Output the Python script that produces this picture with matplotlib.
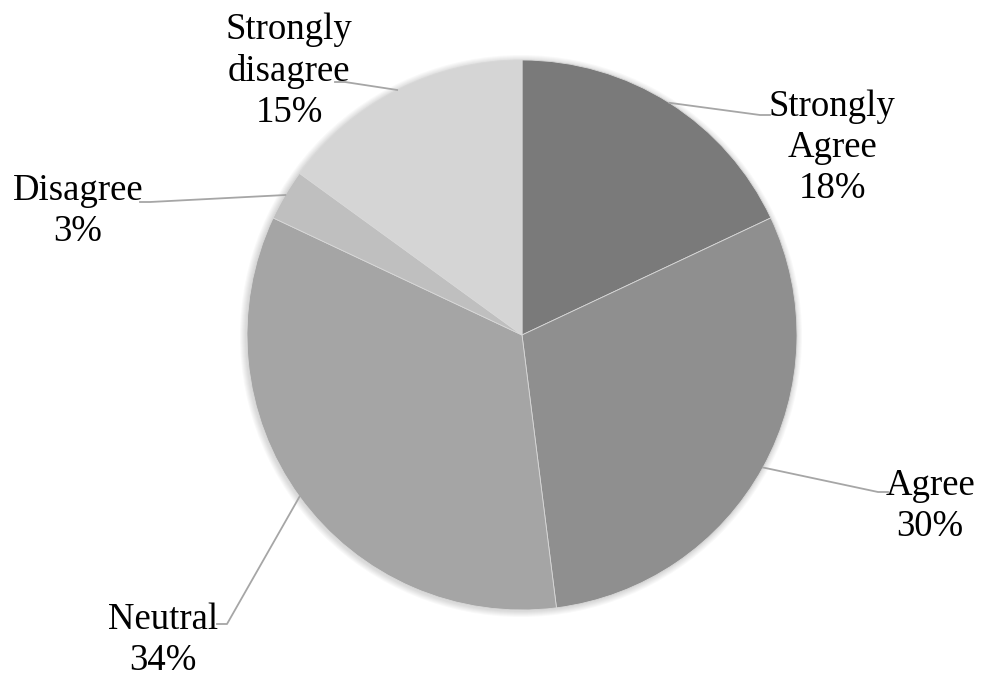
import numpy as np
import matplotlib.pyplot as plt
from matplotlib.patches import Circle

# data
labels = ['Strongly\nAgree', 'Agree', 'Neutral', 'Disagree', 'Strongly\ndisagree']
shares = [18, 30, 34, 3, 15]
colors = ['#7a7a7a', '#8f8f8f', '#a5a5a5', '#bfbfbf', '#d5d5d5']

W, H = 981, 676
cx, cy, r = 522, H - 335, 275

# label text centre and leader elbow (pixel layout, y from top)
label_pos = [(832, 148), (930, 506), (163, 640), (78, 211), (289, 71)]
elbows = [(760, 115), (878, 492), (227, 624), (150, 202), (345, 82)]

plt.rcParams['font.family'] = ['Liberation Serif', 'DejaVu Serif']

fig = plt.figure(figsize=(W / 100, H / 100), dpi=100)
ax = fig.add_axes([0, 0, 1, 1])

#    soft shadow round the pie
for k in range(6):
    ax.add_patch(Circle((cx - 1, cy - 1), r + 1 + k, color='black', alpha=0.025, lw=0, zorder=0))

wedges, _ = ax.pie(shares, colors=colors, startangle=90, counterclock=False,
                   center=(cx, cy), radius=r, frame=True,
                   wedgeprops=dict(linewidth=0.6, edgecolor='#d8d8d8'))
ax.set_xlim(0, W)
ax.set_ylim(0, H)
ax.set_aspect('equal')
ax.set_axis_off()

for w, lab, share, (tx, ty), (ex, ey) in zip(wedges, labels, shares, label_pos, elbows):
    mid = np.deg2rad((w.theta1 + w.theta2) / 2)
    px, py = cx + r * np.cos(mid), cy + r * np.sin(mid)
    ey = H - ey
    # short horizontal stub toward the text
    side = 1 if tx > ex else -1
    ax.plot([px, ex, ex + side * 10], [py, ey, ey], color='#a6a6a6', lw=1.3, zorder=3)
    ax.text(tx, H - ty, '{}\n{}%'.format(lab, share), ha='center', va='center',
            fontsize=26.5, linespacing=1.25, color='black')

fig.savefig('out.png', dpi=100)
